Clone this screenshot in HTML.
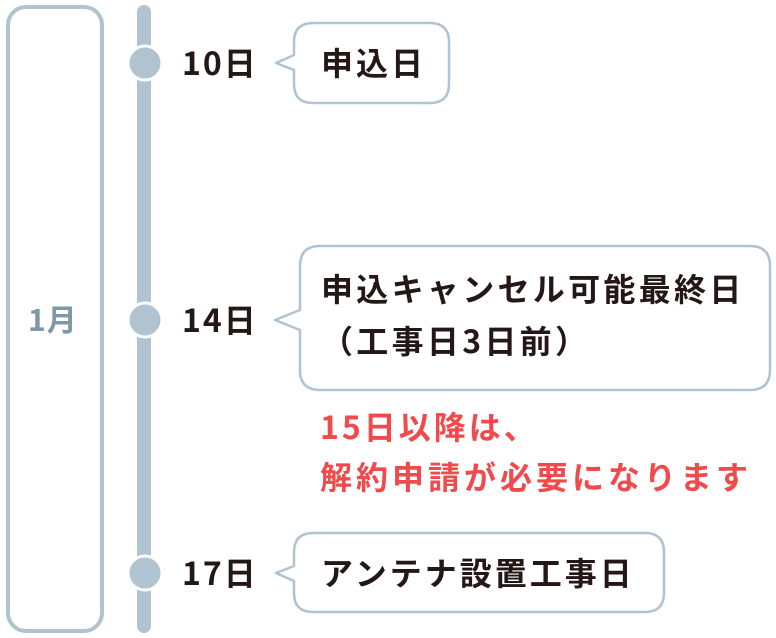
<!DOCTYPE html>
<html><head><meta charset="utf-8"><style>
body{margin:0;width:776px;height:638px;background:#fff;position:relative;overflow:hidden;font-family:"Noto Sans CJK JP","Liberation Sans",sans-serif;font-weight:bold}
.t{position:absolute;white-space:nowrap;color:#231815;line-height:1}
</style></head><body>
<svg width="776" height="638" style="position:absolute;left:0;top:0">
<rect x="8" y="7" width="94" height="624" rx="18" fill="none" stroke="#afc3d0" stroke-width="4"/>
<line x1="144" y1="12" x2="144" y2="626" stroke="#afc3d0" stroke-width="14" stroke-linecap="round"/>
<circle cx="145" cy="63" r="17" fill="#afc3d0" stroke="#fff" stroke-width="3"/>
<circle cx="145" cy="320" r="17" fill="#afc3d0" stroke="#fff" stroke-width="3"/>
<circle cx="145" cy="573" r="17" fill="#afc3d0" stroke="#fff" stroke-width="3"/>
<g fill="#fff" stroke="#afc3d0" stroke-width="2.5" stroke-linejoin="round">
<path d="M313 23 H430 Q449 23 449 42 V84 Q449 103 430 103 H313 Q294 103 294 84 V70 L276 63 L294 55 V42 Q294 23 313 23 Z"/>
<path d="M320 246 H750 Q770 246 770 266 V370 Q770 390 750 390 H320 Q300 390 300 370 V330 L275 320 L300 310 V266 Q300 246 320 246 Z"/>
<path d="M313 533 H645 Q664 533 664 552 V593 Q664 612 645 612 H313 Q294 612 294 593 V581 L276 573 L294 566 V552 Q294 533 313 533 Z"/>
</g>
</svg>
<div class="t" style="left:28px;top:303px;font-size:30px;color:#7d98a8;letter-spacing:1px">1月</div>
<div class="t" style="left:182px;top:46px;font-size:32px;letter-spacing:2px">10日</div>
<div class="t" style="left:182px;top:303px;font-size:32px;letter-spacing:2px">14日</div>
<div class="t" style="left:182px;top:556px;font-size:32px;letter-spacing:2px">17日</div>
<div class="t" style="left:321px;top:46px;font-size:32px;letter-spacing:3px">申込日</div>
<div class="t" style="left:321px;top:272px;font-size:32px;letter-spacing:3.3px">申込キャンセル可能最終日</div>
<div class="t" style="left:321px;top:324px;font-size:32px;letter-spacing:3.3px">（工事日3日前）</div>
<div class="t" style="left:320px;top:410px;font-size:32px;letter-spacing:3px;color:#f04a4c">15日以降は、</div>
<div class="t" style="left:320px;top:460px;font-size:32px;letter-spacing:4px;color:#f04a4c">解約申請が必要になります</div>
<div class="t" style="left:321px;top:556px;font-size:32px;letter-spacing:3px">アンテナ設置工事日</div>
</body></html>
